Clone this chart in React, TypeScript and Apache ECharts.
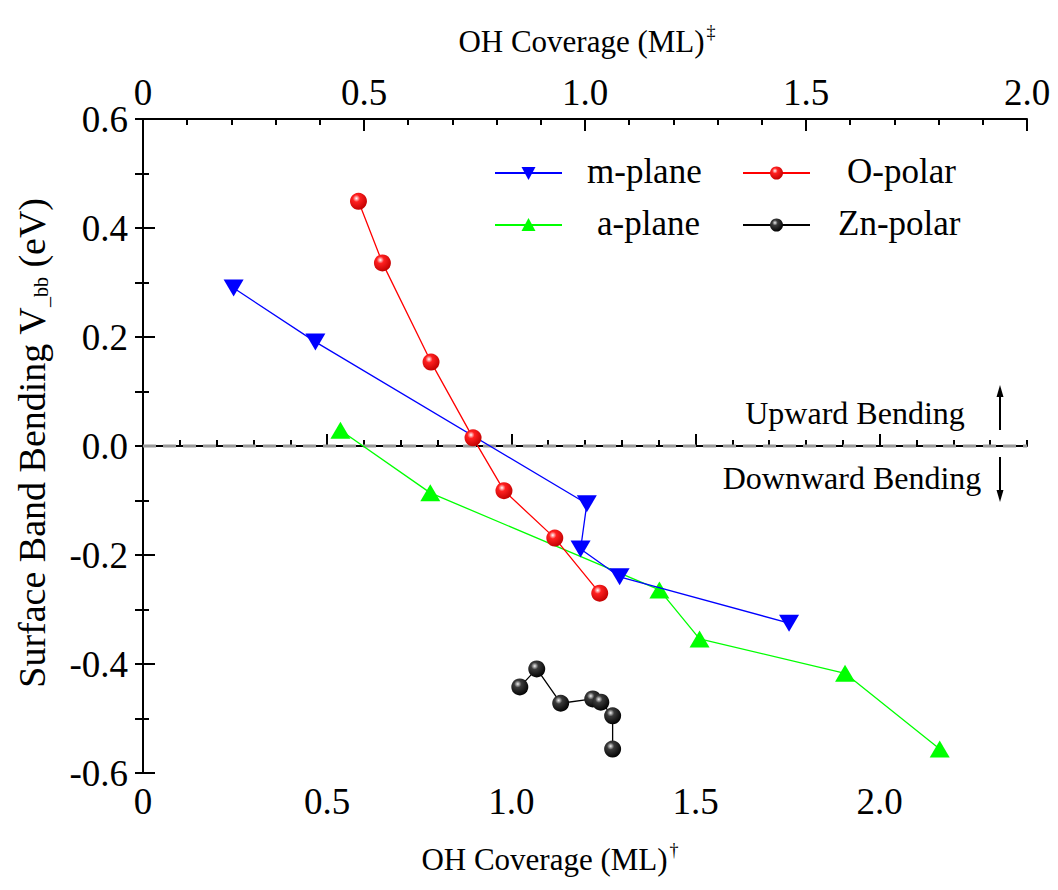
import React, { useEffect, useRef } from "react";
import * as echarts from "echarts";

// ---- data ----
const mPlaneX = [0.246, 0.468, 1.205, 1.188, 1.294, 1.754];
const mPlaneY = [0.29, 0.191, -0.106, -0.189, -0.24, -0.325];
const oPolarX = [0.585, 0.65, 0.782, 0.896, 0.98, 1.118, 1.24];
const oPolarY = [0.449, 0.336, 0.154, 0.015, -0.082, -0.169, -0.27];
const aPlaneX = [0.536, 0.78, 1.402, 1.511, 1.906, 2.163];
const aPlaneY = [0.029, -0.086, -0.264, -0.354, -0.417, -0.556];
const znPolarX = [1.023, 1.069, 1.134, 1.221, 1.243, 1.275, 1.275];
const znPolarY = [-0.442, -0.409, -0.472, -0.464, -0.47, -0.495, -0.556];
const zeroLineX = [0, 2.4];
const zeroLineY = [0, 0];

const seriesNames = ["m-plane", "O-polar", "a-plane", "Zn-polar"];
const bottomRange = [0, 2.4];
const topRange = [0, 2.0];
const yRange = [-0.6, 0.6];
const xTitle = "OH Coverage (ML)";
const yTitleMain = "Surface Band Bending V";
const yTitleSub = "_bb";
const yTitleUnit = " (eV)";
const upLabel = "Upward Bending";
const downLabel = "Downward Bending";

const FONT = "Liberation Serif";
const FONT_Q = "'Liberation Serif', 'Times New Roman', serif";

const zip = (xs: number[], ys: number[]) => xs.map((x, i) => [x, ys[i]]);

const fmt = (v: number) => {
  if (Math.abs(v) < 1e-9) return "0.0";
  return v.toFixed(1);
};
const fmtX = (v: number) => (Math.abs(v) < 1e-9 ? "0" : v.toFixed(1));

export default function App() {
  const ref = useRef<HTMLDivElement>(null);
  useEffect(() => {
    if (!ref.current) return;
    const chart = echarts.init(ref.current, undefined, { renderer: "svg" });

    const sphere = (c0: string, c1: string, c2: string) =>
      new echarts.graphic.RadialGradient(0.38, 0.33, 0.7, [
        { offset: 0, color: c0 },
        { offset: 0.3, color: c1 },
        { offset: 1, color: c2 },
      ]);
    const redSphere = () => sphere("#ffffff", "#ff2020", "#c00000");
    const blackSphere = () => sphere("#f0f0f0", "#3a3a3a", "#000000");

    const axisLine = { show: true, lineStyle: { color: "#000", width: 2 } };
    const tickStyle = { color: "#000", width: 2 };
    const labelStyle = { color: "#000", fontSize: 37, fontFamily: FONT };

    // legend drawn as graphic (rows / columns positions)
    const legRow = [173, 225];
    const legCol = [495, 743];
    const legLineW = 67;
    const legText = (text: string, x: number, y: number) => ({
      type: "text",
      x,
      y: y - 2,
      style: { text, fontSize: 35, fontFamily: FONT_Q, fill: "#000", align: "left", verticalAlign: "middle" },
    });
    const legLine = (x: number, y: number, color: string) => ({
      type: "line",
      shape: { x1: x, y1: y, x2: x + legLineW, y2: y },
      style: { stroke: color, lineWidth: 2 },
    });
    const cx0 = legCol[0] + legLineW / 2;
    const cx1 = legCol[1] + legLineW / 2;

    const option: any = {
      animation: false,
      backgroundColor: "#fff",
      grid: { left: 143, right: 31, top: 119, bottom: 117, containLabel: false },
      xAxis: [
        {
          type: "value",
          position: "bottom",
          min: bottomRange[0],
          max: bottomRange[1],
          interval: 0.1,
          axisLine,
          axisTick: { show: true, inside: true, length: 6, lineStyle: tickStyle },
          axisLabel: { show: false },
          splitLine: { show: false },
        },
        {
          type: "value",
          position: "bottom",
          min: bottomRange[0],
          max: bottomRange[1],
          interval: 0.5,
          axisLine: { show: false },
          axisTick: { show: true, inside: true, length: 12, lineStyle: tickStyle },
          axisLabel: { ...labelStyle, margin: 10, showMaxLabel: false, formatter: fmtX },
          splitLine: { show: false },
        },
        {
          type: "value",
          position: "top",
          min: topRange[0],
          max: topRange[1],
          interval: 0.5,
          axisLine,
          axisTick: { show: true, inside: true, length: 12, lineStyle: tickStyle },
          minorTick: { show: true, splitNumber: 5, length: 6, lineStyle: tickStyle },
          axisLabel: { ...labelStyle, margin: 8, formatter: fmtX },
          splitLine: { show: false },
        },
      ],
      yAxis: [
        {
          type: "value",
          position: "left",
          min: yRange[0],
          max: yRange[1],
          interval: 0.2,
          axisLine,
          axisTick: { show: true, inside: true, length: 12, lineStyle: tickStyle },
          minorTick: { show: true, splitNumber: 2, length: 6, lineStyle: tickStyle },
          axisLabel: { ...labelStyle, margin: 15, formatter: fmt },
          splitLine: { show: false },
        },
        {
          type: "value",
          position: "right",
          min: yRange[0],
          max: yRange[1],
          interval: 0.2,
          axisLine,
          axisTick: { show: true, inside: true, length: 8, lineStyle: tickStyle },
          minorTick: { show: true, splitNumber: 2, length: 8, lineStyle: tickStyle },
          axisLabel: { show: false },
          splitLine: { show: false },
        },
      ],
      series: [
        {
          name: "zero",
          type: "line",
          data: zip(zeroLineX, zeroLineY),
          symbol: "none",
          silent: true,
          lineStyle: { color: "#999999", width: 3, type: [13, 7] },
          z: 1,
        },
        {
          name: seriesNames[0],
          type: "line",
          data: zip(mPlaneX, mPlaneY),
          symbol: "triangle",
          symbolRotate: 180,
          symbolSize: [20, 17],
          lineStyle: { color: "#0000ff", width: 1.3 },
          itemStyle: { color: "#0000ff" },
          z: 3,
        },
        {
          name: seriesNames[1],
          type: "line",
          data: zip(oPolarX, oPolarY),
          symbol: "circle",
          symbolSize: 17,
          lineStyle: { color: "#ff0000", width: 1.3 },
          itemStyle: { color: redSphere() },
          z: 4,
        },
        {
          name: seriesNames[2],
          type: "line",
          data: zip(aPlaneX, aPlaneY),
          symbol: "triangle",
          symbolSize: [20, 17],
          lineStyle: { color: "#00ff00", width: 1.3 },
          itemStyle: { color: "#00ff00" },
          z: 2,
        },
        {
          name: seriesNames[3],
          type: "line",
          data: zip(znPolarX, znPolarY),
          symbol: "circle",
          symbolSize: 17,
          lineStyle: { color: "#000", width: 1.3 },
          itemStyle: { color: blackSphere() },
          z: 4,
        },
      ],
      graphic: [
        // legend
        legLine(legCol[0], legRow[0], "#0000ff"),
        {
          type: "polygon",
          shape: { points: [[cx0 - 7, legRow[0] - 6], [cx0 + 7, legRow[0] - 6], [cx0, legRow[0] + 7]] },
          style: { fill: "#0000ff" },
        },
        legText(seriesNames[0], 587, legRow[0]),
        legLine(legCol[0], legRow[1], "#00ff00"),
        {
          type: "polygon",
          shape: { points: [[cx0 - 7, legRow[1] + 6], [cx0 + 7, legRow[1] + 6], [cx0, legRow[1] - 7]] },
          style: { fill: "#00ff00" },
        },
        legText(seriesNames[2], 597, legRow[1]),
        legLine(legCol[1], legRow[0], "#ff0000"),
        { type: "circle", shape: { cx: cx1, cy: legRow[0], r: 6.5 }, style: { fill: redSphere() } },
        legText(seriesNames[1], 847, legRow[0]),
        legLine(legCol[1], legRow[1], "#000000"),
        { type: "circle", shape: { cx: cx1, cy: legRow[1], r: 6.5 }, style: { fill: blackSphere() } },
        legText(seriesNames[3], 838, legRow[1]),
        // axis titles
        {
          type: "text",
          x: 587,
          y: 41,
          style: {
            text: xTitle + "{sup|‡}",
            fontSize: 31,
            fontFamily: FONT_Q,
            fill: "#000",
            align: "center",
            verticalAlign: "middle",
            rich: { sup: { fontSize: 18, fontFamily: FONT_Q, fill: "#000", verticalAlign: "top", padding: [0, 0, 18, 2] } },
          },
        },
        {
          type: "text",
          x: 550,
          y: 859,
          style: {
            text: xTitle + "{sup|†}",
            fontSize: 31,
            fontFamily: FONT_Q,
            fill: "#000",
            align: "center",
            verticalAlign: "middle",
            rich: { sup: { fontSize: 18, fontFamily: FONT_Q, fill: "#000", verticalAlign: "top", padding: [0, 0, 18, 2] } },
          },
        },
        {
          type: "text",
          x: 32,
          y: 443,
          rotation: Math.PI / 2,
          style: {
            text: yTitleMain + "{sub|" + yTitleSub + "}" + yTitleUnit,
            fontSize: 38,
            fontFamily: FONT_Q,
            fill: "#000",
            align: "center",
            verticalAlign: "middle",
            rich: { sub: { fontSize: 20, fontFamily: FONT_Q, fill: "#000", verticalAlign: "bottom", padding: [16, 0, 0, 0] } },
          },
        },
        // annotations
        {
          type: "text",
          x: 855,
          y: 413,
          style: { text: upLabel, fontSize: 32, fontFamily: FONT_Q, fill: "#000", align: "center", verticalAlign: "middle" },
        },
        {
          type: "text",
          x: 852,
          y: 478,
          style: { text: downLabel, fontSize: 32, fontFamily: FONT_Q, fill: "#000", align: "center", verticalAlign: "middle" },
        },
        { type: "line", shape: { x1: 1000, y1: 430, x2: 1000, y2: 393 }, style: { stroke: "#000", lineWidth: 2 } },
        { type: "polygon", shape: { points: [[1000, 385], [996.5, 397], [1003.5, 397]] }, style: { fill: "#000" } },
        { type: "line", shape: { x1: 1000, y1: 457, x2: 1000, y2: 494 }, style: { stroke: "#000", lineWidth: 2 } },
        { type: "polygon", shape: { points: [[1000, 502], [996.5, 490], [1003.5, 490]] }, style: { fill: "#000" } },
      ],
    };
    chart.setOption(option);
    return () => chart.dispose();
  }, []);

  return (
    <div
      ref={ref}
      style={{ position: "absolute", left: 0, top: 0, width: 1058, height: 890, background: "#fff" }}
    />
  );
}
